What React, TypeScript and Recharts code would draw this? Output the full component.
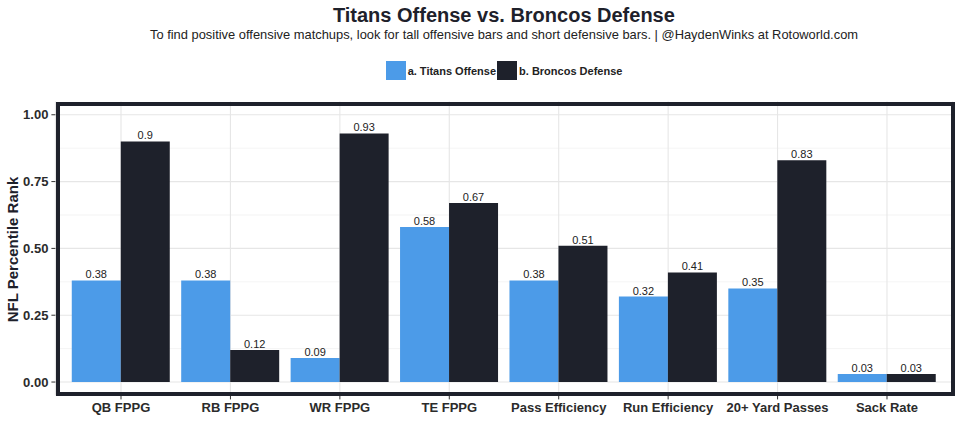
import React from 'react';
import { BarChart, Bar, XAxis, YAxis, CartesianGrid, LabelList } from 'recharts';

const categories = ['QB FPPG', 'RB FPPG', 'WR FPPG', 'TE FPPG', 'Pass Efficiency', 'Run Efficiency', '20+ Yard Passes', 'Sack Rate'];
const titansOffense = [0.38, 0.38, 0.09, 0.58, 0.38, 0.32, 0.35, 0.03];
const broncosDefense = [0.9, 0.12, 0.93, 0.67, 0.51, 0.41, 0.83, 0.03];
const yTicks = [0, 0.25, 0.5, 0.75, 1];
const yMinor = [0.125, 0.375, 0.625, 0.875];

const data = categories.map((c, i) => ({ cat: c, off: titansOffense[i], def: broncosDefense[i] }));

const FONT = '"Liberation Sans", Arial, Helvetica, sans-serif';
const BLUE = '#4c9be8';
const DARK = '#1e212b';

export default function App() {
  return (
    <div style={{ position: 'absolute', left: 0, top: 0, width: 960, height: 439, background: '#fff', fontFamily: FONT, overflow: 'hidden' }}>
      <div style={{ position: 'absolute', left: 55.4, width: 897, top: 4.8, textAlign: 'center', fontSize: 20, lineHeight: '20px', fontWeight: 'bold', color: '#1e212b' }}>
        Titans Offense vs. Broncos Defense
      </div>
      <div style={{ position: 'absolute', left: 0, width: 1008, top: 28, textAlign: 'center', fontSize: 12.9, lineHeight: '13px', color: '#222' }}>
        To find positive offensive matchups, look for tall offensive bars and short defensive bars. | @HaydenWinks at Rotoworld.com
      </div>
      <div style={{ position: 'absolute', left: 0, width: 1008, top: 61, height: 19, display: 'flex', justifyContent: 'center', alignItems: 'center', fontSize: 11, fontWeight: 'bold', color: '#222' }}>
        <span style={{ display: 'inline-block', width: 20, height: 19, background: BLUE, marginRight: 2 }} />
        <span>a. Titans Offense</span>
        <span style={{ display: 'inline-block', width: 20, height: 19, background: DARK, marginLeft: 1, marginRight: 2 }} />
        <span>b. Broncos Defense</span>
      </div>
      <div style={{ position: 'absolute', left: 11.5 - 100, top: 249 - 7.5, width: 200, height: 15, lineHeight: '15px', textAlign: 'center', transform: 'rotate(-90deg)', fontSize: 15, fontWeight: 'bold', color: '#1e212b' }}>
        NFL Percentile Rank
      </div>
      <div style={{ position: 'absolute', left: 0, top: 0 }}>
        <BarChart width={960} height={439} data={data} margin={{ top: 101.4, right: 7.4, bottom: 13.6, left: 0 }} barCategoryGap="5%" barGap={0}>
          <CartesianGrid horizontalValues={yMinor} vertical={false} stroke="#ececec" strokeWidth={0.6} />
          <CartesianGrid horizontalValues={yTicks} vertical={true} stroke="#e6e6e6" strokeWidth={1.1} />
          <XAxis
            dataKey="cat"
            interval={0}
            padding={{ left: 10.9, right: 10.9 }}
            axisLine={false}
            tickSize={4}
            tickMargin={3}
            height={30}
            tickLine={{ stroke: '#333' }}
            tick={{ fontSize: 13, fontWeight: 'bold', fill: '#2b2b2b', fontFamily: FONT }}
          />
          <YAxis
            type="number"
            width={55.4}
            domain={[-0.05, 1.05]}
            ticks={yTicks}
            tickFormatter={(v: number) => v.toFixed(2)}
            axisLine={false}
            tickSize={4}
            tickMargin={3}
            tickLine={{ stroke: '#333' }}
            tick={{ fontSize: 13, fontWeight: 'bold', fill: '#2b2b2b', fontFamily: FONT }}
          />
          <Bar dataKey="off" fill={BLUE} isAnimationActive={false}>
            <LabelList dataKey="off" position="top" offset={2} style={{ fontSize: 11, fill: '#222', fontFamily: FONT }} />
          </Bar>
          <Bar dataKey="def" fill={DARK} isAnimationActive={false}>
            <LabelList dataKey="def" position="top" offset={2} style={{ fontSize: 11, fill: '#222', fontFamily: FONT }} />
          </Bar>
        </BarChart>
      </div>
      <div style={{ position: 'absolute', left: 55.5, top: 101.5, width: 899, height: 294.5, border: '4px solid #1e212b', boxSizing: 'border-box', pointerEvents: 'none' }} />
    </div>
  );
}
